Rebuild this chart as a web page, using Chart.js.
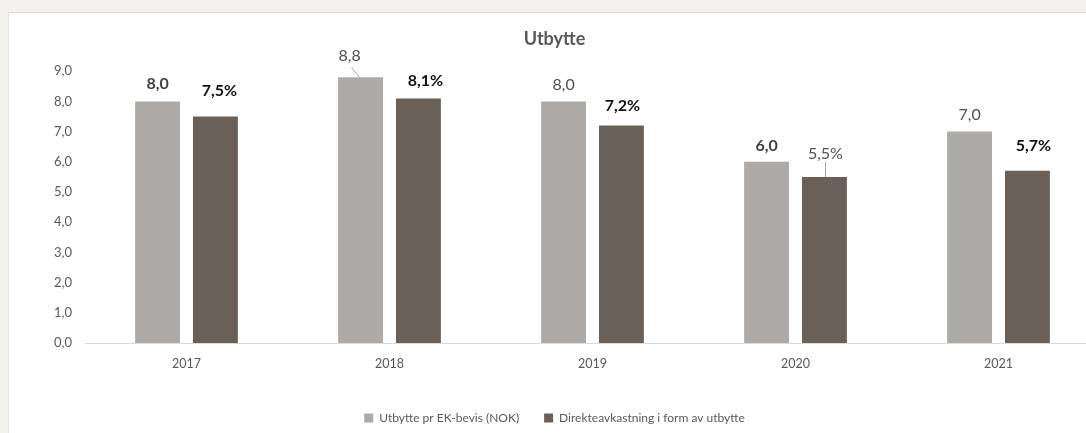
<!DOCTYPE html>
<html>
<head>
<meta charset="utf-8">
<script src="https://cdn.jsdelivr.net/npm/chart.js@4.4.1/dist/chart.umd.min.js"></script>
<style>
  html, body { margin: 0; padding: 0; background: #f3f2ef; overflow: hidden; width: 1086px; height: 433px; }
  #kort { position: absolute; left: 8px; top: 12px; width: 1092px; height: 437px; background: #fff;
          border-top: 1px solid #dcdcdc; border-left: 1px solid #e4e4e4; box-sizing: border-box; }
  #kort canvas { position: absolute; left: 0; top: 0; }
</style>
</head>
<body>
<div id="kort"><canvas id="utbytteChart"></canvas></div>
<script>
  /* DATA */
  var aar = ["2017", "2018", "2019", "2020", "2021"];
  var utbyttePrBevis = [8.0, 8.8, 8.0, 6.0, 7.0];
  var direkteavkastning = [7.5, 8.1, 7.2, 5.5, 5.7];
  var yTicks = [0, 1, 2, 3, 4, 5, 6, 7, 8, 9];

  var serieNavn = ["Utbytte pr EK-bevis (NOK)", "Direkteavkastning i form av utbytte"];

  function norsk(v) {
    return v.toFixed(1).replace(".", ",");
  }

  /* etikett-stiler (dx, dy fra toppen av stolpen) */
  var etikettStil = [
    [
      { dx: 0, dy: -18, bold: true, color: "#404040" },
      { dx: -11, dy: -21, bold: false, color: "#505050", leder: true },
      { dx: 0, dy: -17, bold: false, color: "#505050" },
      { dx: 0, dy: -16, bold: true, color: "#404040" },
      { dx: 0, dy: -17, bold: false, color: "#505050" }
    ],
    [
      { dx: 4, dy: -26, bold: true, color: "#111111" },
      { dx: 7, dy: -18, bold: true, color: "#111111" },
      { dx: 1, dy: -20, bold: true, color: "#111111" },
      { dx: 1, dy: -23, bold: false, color: "#505050", leder: true },
      { dx: 6, dy: -25, bold: true, color: "#111111" }
    ]
  ];

  var etikettPlugin = {
    id: "etiketter",
    afterDatasetsDraw: function (chart) {
      var ctx = chart.ctx;
      ctx.save();
      ctx.textAlign = "center";
      ctx.textBaseline = "middle";
      chart.data.datasets.forEach(function (ds, di) {
        var meta = chart.getDatasetMeta(di);
        meta.data.forEach(function (bar, i) {
          var stil = etikettStil[di][i];
          var tekst = norsk(ds.data[i]) + (di == 1 ? "%" : "");
          var x = bar.x + stil.dx;
          var y = bar.y + stil.dy;
          if (stil.leder) {
            ctx.strokeStyle = "#a6a6a6";
            ctx.lineWidth = 1;
            ctx.beginPath();
            if (Math.abs(stil.dx) < 3) {
              ctx.moveTo(Math.round(x) + 0.5, y + 8);
              ctx.lineTo(Math.round(x) + 0.5, bar.y);
            } else {
              ctx.moveTo(x + 2, y + 11);
              ctx.lineTo(bar.x - 1, bar.y);
            }
            ctx.stroke();
          }
          ctx.fillStyle = stil.color;
          ctx.font = (stil.bold ? "bold " : "") + "16px Lato";
          ctx.fillText(tekst, x, y);
        });
      });
      // tittel
      ctx.fillStyle = "#595959";
      ctx.font = "bold 18px Lato";
      ctx.fillText("Utbytte", chart.width / 2, 26);
      ctx.restore();
    }
  };

  var ctx = document.getElementById("utbytteChart");
  var myChart = new Chart(ctx, {
    type: "bar",
    data: {
      labels: aar,
      datasets: [{
        label: serieNavn[0],
        data: utbyttePrBevis,
        backgroundColor: "#aeaaa8",
        borderWidth: 0,
        categoryPercentage: 0.57,
        barPercentage: 0.776
      }, {
        label: serieNavn[1],
        data: direkteavkastning,
        backgroundColor: "#6a6057",
        borderWidth: 0,
        categoryPercentage: 0.57,
        barPercentage: 0.776
      }]
    },
    options: {
      responsive: true,
      maintainAspectRatio: false,
      animation: false,
      layout: { padding: { top: 28, right: 0, bottom: 15, left: 0 } },
      plugins: {
        tooltip: { enabled: false },
        title: { display: false },
        legend: {
          position: "bottom",
          labels: {
            color: "#595959",
            font: { family: "Lato", size: 12 },
            boxWidth: 9,
            boxHeight: 9,
            padding: 25
          }
        }
      },
      scales: {
        x: {
          grid: { display: false, drawTicks: false },
          border: { display: true, color: "#d9d9d9", width: 1 },
          ticks: { color: "#595959", font: { family: "Lato", size: 12.5 }, padding: 13 },
          afterFit: function (scale) { scale.height = 44; }
        },
        y: {
          min: 0,
          max: 10,
          grid: { display: false, drawTicks: false },
          border: { display: false },
          afterBuildTicks: function (scale) {
            scale.ticks = yTicks.map(function (v) { return { value: v }; });
          },
          ticks: {
            color: "#595959",
            font: { family: "Lato", size: 13 },
            padding: 13,
            callback: function (v) { return norsk(v); }
          },
          afterFit: function (scale) { scale.width = 76; }
        }
      }
    },
    plugins: [etikettPlugin]
  });
</script>
</body>
</html>
